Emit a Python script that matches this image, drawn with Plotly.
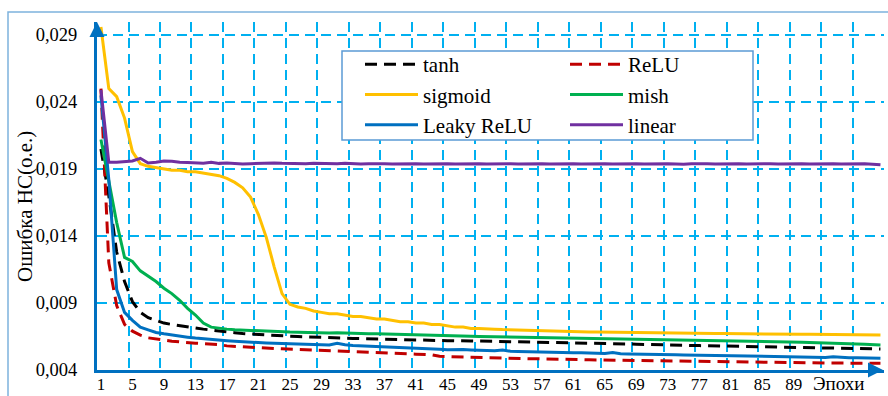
import plotly.graph_objects as go

epochs = list(range(1, 101))

tanh_vals = [
    0.0205, 0.0170, 0.0128, 0.0106, 0.0091, 0.0083, 0.0079, 0.0077, 0.0075, 0.0074,
    0.0073, 0.0072, 0.00713, 0.00705, 0.00698, 0.00690, 0.00684, 0.00678, 0.00672, 0.00668,
    0.00665, 0.00662, 0.00658, 0.00655, 0.00652, 0.00650, 0.00647, 0.00645, 0.00642, 0.00640,
    0.00639, 0.00637, 0.00636, 0.00634, 0.00633, 0.00631, 0.00630, 0.00629, 0.00628, 0.00627,
    0.00625, 0.00624, 0.00622, 0.00620, 0.00619, 0.00620, 0.00618, 0.00617, 0.00616, 0.00615,
    0.00614, 0.00614, 0.00613, 0.00612, 0.00611, 0.00610, 0.00610, 0.00609, 0.00608, 0.00607,
    0.00605, 0.00604, 0.00602, 0.00600, 0.00599, 0.00597, 0.00595, 0.00594, 0.00592, 0.00590,
    0.00588, 0.00587, 0.00586, 0.00585, 0.00584, 0.00583, 0.00582, 0.00581, 0.00580, 0.00579,
    0.00578, 0.00577, 0.00576, 0.00575, 0.00574, 0.00573, 0.00572, 0.00572, 0.00571, 0.00570,
    0.00569, 0.00568, 0.00567, 0.00566, 0.00565, 0.00564, 0.00562, 0.00560, 0.00558, 0.00557,
]

relu_vals = [
    0.0250, 0.0120, 0.0088, 0.0074, 0.0069, 0.0066, 0.0064, 0.0063, 0.0062, 0.00615,
    0.00610, 0.00603, 0.00600, 0.00597, 0.00594, 0.00590, 0.00580, 0.00576, 0.00572, 0.00569,
    0.00566, 0.00563, 0.00560, 0.00558, 0.00556, 0.00553, 0.00551, 0.00549, 0.00546, 0.00543,
    0.00541, 0.00538, 0.00536, 0.00534, 0.00531, 0.00529, 0.00527, 0.00525, 0.00523, 0.00521,
    0.00518, 0.00516, 0.00513, 0.00502, 0.00500, 0.00498, 0.00496, 0.00495, 0.00494, 0.00492,
    0.00491, 0.00489, 0.00488, 0.00487, 0.00485, 0.00484, 0.00482, 0.00481, 0.00480, 0.00479,
    0.00478, 0.00477, 0.00476, 0.00475, 0.00474, 0.00473, 0.00472, 0.00471, 0.00470, 0.00469,
    0.00468, 0.00467, 0.00466, 0.00465, 0.00464, 0.00463, 0.00463, 0.00462, 0.00461, 0.00460,
    0.00459, 0.00459, 0.00458, 0.00457, 0.00456, 0.00456, 0.00455, 0.00455, 0.00454, 0.00454,
    0.00453, 0.00453, 0.00452, 0.00452, 0.00452, 0.00451, 0.00451, 0.00450, 0.00450, 0.00450,
]

sigmoid_vals = [
    0.0296, 0.0250, 0.0244, 0.0228, 0.0203, 0.0194, 0.0192, 0.0191, 0.0190, 0.0189,
    0.0189, 0.0188, 0.0188, 0.0187, 0.0186, 0.0185, 0.0183, 0.0180, 0.0176, 0.0169,
    0.0156, 0.0139, 0.0117, 0.0097, 0.0089, 0.0087, 0.0086, 0.0084, 0.0083, 0.0082,
    0.0082, 0.0081, 0.0080, 0.0080, 0.0079, 0.0078, 0.0078, 0.0077, 0.0076, 0.0076,
    0.0075, 0.0075, 0.0074, 0.0074, 0.0073, 0.0072, 0.0072, 0.0071, 0.0071, 0.0071,
    0.00705, 0.00702, 0.00700, 0.00698, 0.00695, 0.00693, 0.00692, 0.00690, 0.00689, 0.00687,
    0.00686, 0.00685, 0.00684, 0.00683, 0.00682, 0.00681, 0.00680, 0.00678, 0.00677, 0.00676,
    0.00676, 0.00675, 0.00675, 0.00674, 0.00674, 0.00673, 0.00673, 0.00672, 0.00672, 0.00672,
    0.00671, 0.00671, 0.00670, 0.00670, 0.00670, 0.00669, 0.00669, 0.00668, 0.00668, 0.00667,
    0.00667, 0.00666, 0.00668, 0.00666, 0.00665, 0.00664, 0.00664, 0.00663, 0.00662, 0.00661,
]

mish_vals = [
    0.0212, 0.0180, 0.0150, 0.0124, 0.0121, 0.0114, 0.0110, 0.0106, 0.0101, 0.0097,
    0.0092, 0.0086, 0.0081, 0.0075, 0.0072, 0.0071, 0.00705, 0.00700, 0.00697, 0.00693,
    0.00690, 0.00688, 0.00686, 0.00685, 0.00683, 0.00682, 0.00680, 0.00679, 0.00678, 0.00676,
    0.00678, 0.00675, 0.00674, 0.00673, 0.00671, 0.00670, 0.00668, 0.00667, 0.00669, 0.00665,
    0.00663, 0.00662, 0.00660, 0.00658, 0.00655, 0.00654, 0.00652, 0.00651, 0.00650, 0.00649,
    0.00648, 0.00646, 0.00645, 0.00644, 0.00643, 0.00642, 0.00640, 0.00640, 0.00639, 0.00638,
    0.00637, 0.00637, 0.00636, 0.00635, 0.00635, 0.00634, 0.00634, 0.00633, 0.00632, 0.00632,
    0.00631, 0.00630, 0.00629, 0.00628, 0.00627, 0.00626, 0.00624, 0.00623, 0.00622, 0.00620,
    0.00619, 0.00618, 0.00616, 0.00615, 0.00613, 0.00612, 0.00611, 0.00610, 0.00608, 0.00607,
    0.00605, 0.00604, 0.00602, 0.00600, 0.00598, 0.00596, 0.00594, 0.00592, 0.00590, 0.00587,
]

leaky_vals = [
    0.0245, 0.0182, 0.0100, 0.0083, 0.0077, 0.0072, 0.0070, 0.0068, 0.0067, 0.0066,
    0.00652, 0.00645, 0.00638, 0.00632, 0.00627, 0.00622, 0.00618, 0.00614, 0.00610, 0.00607,
    0.00604, 0.00602, 0.00600, 0.00598, 0.00596, 0.00594, 0.00592, 0.00590, 0.00588, 0.00587,
    0.00600, 0.00588, 0.00582, 0.00580, 0.00578, 0.00575, 0.00573, 0.00571, 0.00569, 0.00567,
    0.00565, 0.00562, 0.00558, 0.00555, 0.00552, 0.00555, 0.00553, 0.00550, 0.00548, 0.00546,
    0.00544, 0.00550, 0.00540, 0.00538, 0.00536, 0.00535, 0.00534, 0.00533, 0.00532, 0.00530,
    0.00529, 0.00528, 0.00527, 0.00525, 0.00524, 0.00530, 0.00522, 0.00520, 0.00518, 0.00517,
    0.00516, 0.00515, 0.00514, 0.00513, 0.00512, 0.00511, 0.00510, 0.00509, 0.00508, 0.00507,
    0.00506, 0.00505, 0.00504, 0.00503, 0.00502, 0.00501, 0.00500, 0.00499, 0.00498, 0.00497,
    0.00496, 0.00495, 0.00494, 0.00498, 0.00493, 0.00492, 0.00491, 0.00490, 0.00489, 0.00487,
]

linear_vals = [
    0.0249, 0.0195, 0.0195, 0.01955, 0.0196, 0.0198, 0.01945, 0.0195, 0.0196, 0.01958,
    0.0195, 0.01948, 0.01945, 0.01943, 0.0195, 0.01942, 0.01945, 0.0194, 0.01938, 0.0194,
    0.01942, 0.0194, 0.01945, 0.01942, 0.0194, 0.01938, 0.0194, 0.01942, 0.0194, 0.01938,
    0.0194, 0.01943, 0.0194, 0.01938, 0.0194, 0.01942, 0.0194, 0.01938, 0.0194, 0.01942,
    0.0194, 0.01938, 0.0194, 0.01942, 0.0194, 0.01938, 0.0194, 0.01942, 0.0194, 0.01938,
    0.0194, 0.01942, 0.0194, 0.01938, 0.0194, 0.01942, 0.0194, 0.01938, 0.0194, 0.01942,
    0.0194, 0.01938, 0.0194, 0.01942, 0.0194, 0.01938, 0.0194, 0.01942, 0.0194, 0.01938,
    0.0194, 0.01942, 0.0194, 0.01938, 0.01936, 0.0194, 0.01942, 0.0194, 0.01938, 0.0194,
    0.01942, 0.0194, 0.01938, 0.0194, 0.01942, 0.0194, 0.01938, 0.0194, 0.01942, 0.0194,
    0.01938, 0.0194, 0.01942, 0.0194, 0.01938, 0.0194, 0.01942, 0.0194, 0.01936, 0.01932,
]

series_names = ["tanh", "ReLU", "sigmoid", "mish", "Leaky ReLU", "linear"]

y_tick_vals = [0.004, 0.009, 0.014, 0.019, 0.024, 0.029]
y_tick_text = ["0,004", "0,009", "0,014", "0,019", "0,024", "0,029"]
x_tick_vals = list(range(1, 90, 4))
x_tick_text = [str(v) for v in x_tick_vals]

y_title = "Ошибка НС(о.е.)"
x_title = "Эпохи"

FONT = "Liberation Serif"
AXIS_BLUE = "#0070C0"
GRID_BLUE = "#00B0F0"

styles = [
    dict(color="black", dash="12px,7px", legend="legend"),
    dict(color="#C00000", dash="12px,7px", legend="legend2"),
    dict(color="#FFC000", dash="solid", legend="legend"),
    dict(color="#00B050", dash="solid", legend="legend2"),
    dict(color="#0070C0", dash="solid", legend="legend"),
    dict(color="#7030A0", dash="solid", legend="legend2"),
]
all_vals = [tanh_vals, relu_vals, sigmoid_vals, mish_vals, leaky_vals, linear_vals]

fig = go.Figure()
for name, vals, st in zip(series_names, all_vals, styles):
    fig.add_trace(go.Scatter(
        x=epochs, y=vals, mode="lines", name=name,
        legend=st["legend"], legendgroup=name,
        line=dict(color=st["color"], width=3, dash=st["dash"]),
    ))

W, H = 888, 396
ml, mr, mt, mb = 97, 4, 22, 26
pw, ph = W - ml - mr, H - mt - mb

def px_x(p):
    return (p - ml) / pw

def px_y(p):
    return (H - mb - p) / ph

legend_common = dict(
    orientation="v", xanchor="left", yanchor="top",
    bgcolor="rgba(0,0,0,0)", borderwidth=0,
    font=dict(family=FONT, size=21, color="black"),
    itemwidth=53, traceorder="grouped", tracegroupgap=0,
)

fig.update_layout(
    width=W, height=H,
    margin=dict(l=ml, r=mr, t=mt, b=mb, pad=0, autoexpand=False),
    paper_bgcolor="white", plot_bgcolor="white",
    font=dict(family=FONT, color="black"),
    showlegend=True,
    legend=dict(x=px_x(360), y=px_y(44), **legend_common),
    legend2=dict(x=px_x(565), y=px_y(44), **legend_common),
    xaxis=dict(
        range=[0.5, 100.45], automargin=False,
        tickvals=x_tick_vals, ticktext=x_tick_text,
        tickfont=dict(family=FONT, size=17, color="black"),
        ticks="", showgrid=False, zeroline=False,
        showline=True, linecolor=AXIS_BLUE, linewidth=3,
        ticklabelstandoff=-3,
        minor=dict(tick0=0.5, dtick=4, showgrid=True, gridcolor=GRID_BLUE,
                   gridwidth=2, griddash="10px,6px", ticks=""),
    ),
    yaxis=dict(
        range=[0.004, 0.004 + ph / 13400], automargin=False,
        tickvals=y_tick_vals, ticktext=y_tick_text,
        tickfont=dict(family=FONT, size=18.5, color="black"),
        ticks="", showgrid=True, gridcolor=GRID_BLUE, gridwidth=2,
        griddash="10px,6px", zeroline=False,
        showline=True, linecolor=AXIS_BLUE, linewidth=3,
        ticklabelstandoff=13,
    ),
)

# outer chart-area border (left and top visible)
fig.add_shape(type="rect", xref="paper", yref="paper",
              x0=px_x(8), x1=px_x(900), y0=px_y(410), y1=px_y(12),
              line=dict(color="#7EB2DD", width=1.5), fillcolor="rgba(0,0,0,0)",
              layer="below")

# legend frame (white box over the grid)
fig.add_shape(type="rect", xref="paper", yref="paper",
              x0=px_x(342), x1=px_x(753), y0=px_y(140), y1=px_y(51),
              line=dict(color="#5B9BD5", width=1.5), fillcolor="white",
              layer="above")

# axis arrows
fig.add_annotation(xref="x", yref="paper", x=0.5, y=1.0, ax=0, ay=14,
                   text="", showarrow=True,
                   arrowhead=2, arrowsize=1, arrowwidth=3, arrowcolor=AXIS_BLUE,
                   standoff=0)
fig.add_annotation(xref="paper", yref="paper", x=px_x(883), y=0.0, ax=-14, ay=0,
                   text="", showarrow=True,
                   arrowhead=2, arrowsize=1, arrowwidth=3, arrowcolor=AXIS_BLUE,
                   standoff=0)

# axis titles
fig.add_annotation(xref="paper", yref="paper", x=px_x(25), y=px_y(207),
                   xanchor="center", yanchor="middle",
                   text=y_title, textangle=-90, showarrow=False,
                   font=dict(family=FONT, size=21, color="black"))
fig.add_annotation(xref="paper", yref="paper", x=px_x(838), y=px_y(384),
                   xanchor="center", yanchor="middle",
                   text=x_title, showarrow=False,
                   font=dict(family=FONT, size=19, color="black"))

fig.write_html("out.html")
